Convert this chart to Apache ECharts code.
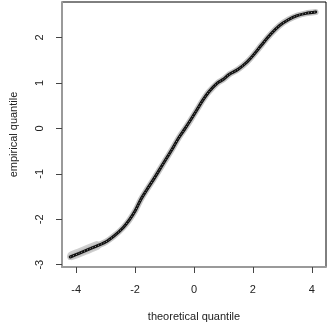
<!DOCTYPE html>
<html>
<head>
<meta charset="utf-8">
<script src="https://cdn.jsdelivr.net/npm/echarts@6/dist/echarts.min.js"></script>
<style>
  html, body { margin: 0; padding: 0; background: #fff; }
  #chart { width: 327px; height: 327px; }
</style>
</head>
<body>
<div id="chart"></div>
<script>
// theoretical vs empirical quantiles
var theoQ = [-4.2, -3.9, -3.5, -3.0, -2.7, -2.4, -2.2, -2.0, -1.8, -1.6, -1.4, -1.2, -1.0, -0.8,
  -0.5, -0.3, -0.1, 0.1, 0.3, 0.5, 0.8, 1.0, 1.2, 1.5, 1.8, 2.0, 2.3, 2.6, 2.9, 3.2, 3.5, 3.8, 4.13];
var empQ = [-2.83, -2.75, -2.64, -2.50, -2.36, -2.18, -2.02, -1.82, -1.56, -1.35, -1.15, -0.94, -0.73, -0.52,
  -0.19, 0.0, 0.2, 0.41, 0.62, 0.8, 1.0, 1.08, 1.19, 1.3, 1.46, 1.6, 1.84, 2.07, 2.26, 2.39, 2.48, 2.53, 2.56];
// lower tail where the grey envelope is wider
var tailX = [-4.15, -3.9, -3.6, -3.3];
var tailY = [-2.8, -2.74, -2.66, -2.58];
var xTicks = [-4, -2, 0, 2, 4];
var yTicks = [-3, -2, -1, 0, 1, 2];

var pts = theoQ.map(function (x, i) { return [x, empQ[i]]; });
var tail = tailX.map(function (x, i) { return [x, tailY[i]]; });

var font = '"Liberation Sans", Arial, Helvetica, sans-serif';
var myChart = echarts.init(document.getElementById('chart'));
myChart.setOption({
  animation: false,
  grid: { left: 52, right: 1, top: 2, bottom: 57, show: true, borderColor: '#000', borderWidth: 1 },
  xAxis: {
    type: 'value', min: -4.48, max: 4.48,
    name: 'theoretical quantile', nameLocation: 'middle', nameGap: 44,
    nameTextStyle: { fontFamily: font, fontSize: 11, color: '#222' },
    axisLine: { show: true, onZero: false, lineStyle: { color: '#9a9a9a', width: 2 } },
    axisTick: { show: true, length: 6, lineStyle: { color: '#444' }, customValues: xTicks },
    axisLabel: { fontFamily: font, fontSize: 11, color: '#222', margin: 17, customValues: xTicks },
    splitLine: { show: false }
  },
  yAxis: {
    type: 'value', min: -3.05, max: 2.78,
    name: 'empirical quantile', nameLocation: 'middle', nameGap: 43,
    nameTextStyle: { fontFamily: font, fontSize: 11, color: '#222' },
    axisLine: { show: true, onZero: false, lineStyle: { color: '#9a9a9a', width: 2 } },
    axisTick: { show: true, length: 6, lineStyle: { color: '#444' }, customValues: yTicks },
    axisLabel: { fontFamily: font, fontSize: 11, color: '#222', margin: 17, rotate: 90, customValues: yTicks },
    splitLine: { show: false }
  },
  series: [
    { type: 'line', data: tail, showSymbol: false, smooth: 0.3,
      lineStyle: { color: '#cfcfcf', width: 9, cap: 'round' }, silent: true },
    { type: 'line', data: pts, showSymbol: false, smooth: 0.3,
      lineStyle: { color: '#c4c4c4', width: 6, cap: 'round' }, silent: true },
    { type: 'line', data: pts, showSymbol: false, smooth: 0.3,
      lineStyle: { color: '#111', width: 3, cap: 'round' }, silent: true },
    { type: 'line', data: pts, showSymbol: false, smooth: 0.3,
      lineStyle: { color: '#9a9a9a', width: 1, type: [1, 2] }, silent: true }
  ]
});
</script>
</body>
</html>
